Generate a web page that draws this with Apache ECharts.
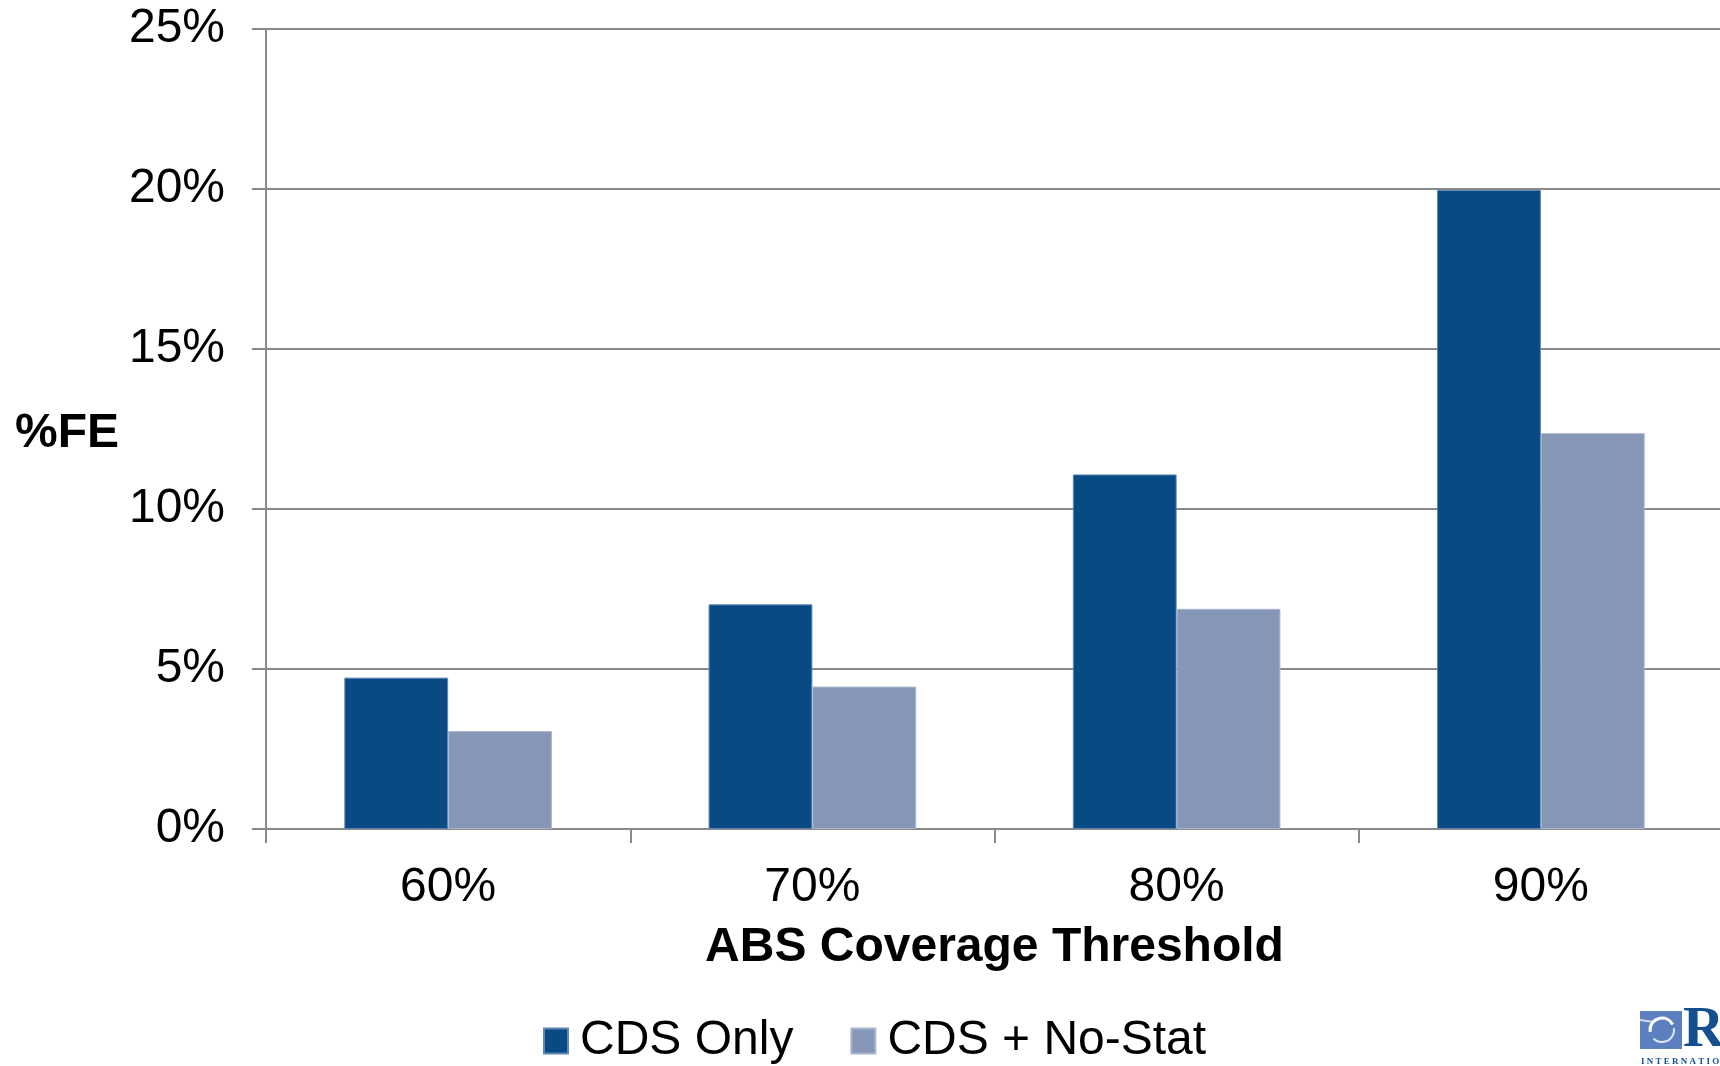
<!DOCTYPE html>
<html>
<head>
<meta charset="utf-8">
<title>%FE by ABS Coverage Threshold</title>
<script src="https://cdn.jsdelivr.net/npm/echarts@6/dist/echarts.min.js"></script>
<style>
  html, body { margin: 0; padding: 0; background: #ffffff; }
  #chart { width: 1720px; height: 1066px; }
</style>
</head>
<body>
<div id="chart"></div>
<script>
// Coverage thresholds along the x axis
const thresholds = ['60%', '70%', '80%', '90%'];
// %FE for each approach (percent)
const cdsOnly = [4.73, 7.02, 11.08, 19.97];
const cdsNoStat = [3.06, 4.45, 6.88, 12.37];
// Series names shown in the legend
const seriesNames = ['CDS Only', 'CDS + No-Stat'];

const FONT = '"Liberation Sans", Arial, Helvetica, sans-serif';
const SERIF = '"Liberation Serif", "DejaVu Serif", serif';
const AXIS_GREY = '#898989';

const chart = echarts.init(document.getElementById('chart'), null, { renderer: 'canvas' });

chart.setOption({
  animation: false,
  backgroundColor: '#ffffff',
  grid: {
    left: 266,
    top: 29,
    width: 1457,
    bottom: 237,
    containLabel: false,
    outerBoundsMode: 'none'
  },
  legend: {
    data: seriesNames,
    left: 543,
    top: 1016,
    padding: 0,
    icon: 'rect',
    itemWidth: 24,
    itemHeight: 25,
    itemGap: 57,
    textStyle: {
      fontFamily: FONT,
      fontSize: 48,
      color: '#000000',
      lineHeight: 50,
      padding: [0, 0, 0, 7]
    }
  },
  xAxis: {
    type: 'category',
    data: thresholds,
    name: 'ABS Coverage Threshold',
    nameLocation: 'middle',
    nameGap: 95,
    nameTextStyle: {
      fontFamily: FONT,
      fontSize: 48,
      fontWeight: 'bold',
      color: '#000000'
    },
    axisLine: { show: true, lineStyle: { color: AXIS_GREY, width: 2 } },
    axisTick: { show: true, length: 14, inside: false, lineStyle: { color: AXIS_GREY, width: 2 } },
    axisLabel: {
      fontFamily: FONT,
      fontSize: 48,
      color: '#000000',
      margin: 35
    }
  },
  yAxis: {
    type: 'value',
    min: 0,
    max: 25,
    interval: 5,
    axisLine: { show: true, lineStyle: { color: AXIS_GREY, width: 2 } },
    axisTick: { show: true, length: 14, inside: false, lineStyle: { color: AXIS_GREY, width: 2 } },
    splitLine: { show: true, lineStyle: { color: AXIS_GREY, width: 2 } },
    axisLabel: {
      fontFamily: FONT,
      fontSize: 48,
      color: '#000000',
      margin: 41,
      padding: [4, 0, 0, 0],
      formatter: v => v + '%'
    }
  },
  series: [
    {
      name: seriesNames[0],
      type: 'bar',
      data: cdsOnly,
      barGap: '0%',
      barCategoryGap: '43%',
      itemStyle: { color: '#084a84', borderColor: '#5f86b3', borderWidth: 1 }
    },
    {
      name: seriesNames[1],
      type: 'bar',
      data: cdsNoStat,
      itemStyle: { color: '#8696b6', borderColor: '#a8b6cf', borderWidth: 1 }
    }
  ],
  graphic: [
    // vertical axis title, set horizontally beside the axis
    {
      type: 'text',
      left: 15,
      top: 410,
      style: {
        text: '%FE',
        fontFamily: FONT,
        fontSize: 48,
        fontWeight: 'bold',
        fill: '#000000'
      }
    },
    // organisation logo in the lower right corner
    {
      type: 'group',
      x: 1640,
      y: 1011,
      children: [
        {
          type: 'rect',
          shape: { x: 0, y: 0, width: 42, height: 38 },
          style: { fill: '#5b7fbf' }
        },
        {
          type: 'arc',
          shape: { cx: 22, cy: 19, r: 12, startAngle: Math.PI * 0.95, endAngle: Math.PI * 1.85 },
          style: { stroke: '#ffffff', lineWidth: 3, fill: null }
        },
        {
          type: 'arc',
          shape: { cx: 22, cy: 19, r: 12, startAngle: Math.PI * 1.95, endAngle: Math.PI * 0.75 },
          style: { stroke: '#ffffff', lineWidth: 2, fill: null, opacity: 0.8 }
        },
        {
          type: 'line',
          shape: { x1: 0, y1: 9, x2: 14, y2: 11 },
          style: { stroke: '#ffffff', lineWidth: 2, opacity: 0.7 }
        },
        {
          type: 'text',
          x: 43,
          y: 20,
          style: {
            text: 'RTI',
            fontFamily: SERIF,
            fontSize: 57,
            fontWeight: 'bold',
            fill: '#14508f',
            verticalAlign: 'middle'
          }
        },
        {
          type: 'text',
          x: 1,
          y: 46,
          style: {
            text: 'I N T E R N A T I O N A L',
            fontFamily: SERIF,
            fontSize: 9,
            fontWeight: 'bold',
            fill: '#14508f'
          }
        }
      ]
    }
  ]
});
</script>
</body>
</html>
